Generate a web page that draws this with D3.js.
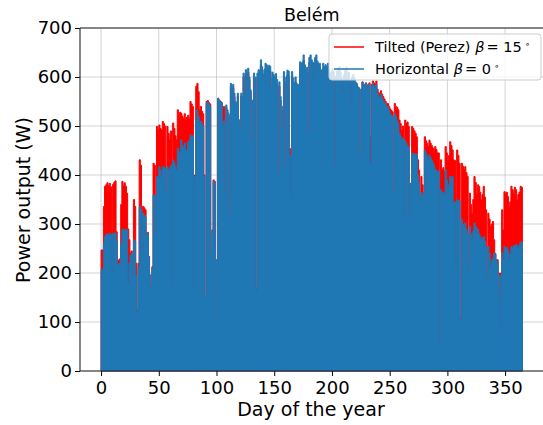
<!DOCTYPE html>
<html>
<head>
<meta charset="utf-8">
<script src="https://cdn.jsdelivr.net/npm/d3@7"></script>
<style>
  body { margin: 0; background: #fff; }
  text { font-family: "DejaVu Sans", sans-serif; fill: #000; }
</style>
</head>
<body>
<svg id="chart"></svg>
<script>
// daily peak power output (W), day 0..364
const tilted = [
  247,247,336,377,380,384,378,383,376,210,
  381,385,388,284,227,225,229,340,387,378,
  384,377,363,290,268,241,245,200,350,336,
  220,125,220,431,420,250,336,333,329,281,
  283,234,196,173,213,424,420,281,499,492,
  502,495,492,509,505,500,363,499,485,472,
  490,176,506,495,480,472,533,519,528,526,
  520,515,525,513,518,522,516,550,545,540,
  176,400,581,587,570,533,540,530,525,400,
  152,550,552,548,545,241,288,390,387,227,
  111,555,553,550,548,536,540,363,538,528,
  520,312,580,575,578,560,545,543,560,510,
  490,560,555,600,560,605,590,610,595,570,
  475,550,600,595,170,600,605,603,625,612,
  596,606,618,615,612,614,612,572,600,596,
  592,598,586,398,581,552,492,532,601,411,
  591,604,602,454,360,601,589,578,590,578,
  575,576,620,618,620,634,615,601,610,481,
  630,634,625,620,585,630,634,622,618,618,
  592,605,618,611,615,612,618,604,598,601,
  607,601,414,592,603,609,612,601,592,566,
  597,607,612,591,603,588,541,595,600,594,
  587,585,578,577,440,575,590,585,580,588,
  578,585,588,478,585,592,588,586,592,575,
  568,565,572,565,560,555,550,545,546,540,
  535,532,529,365,546,540,538,533,512,505,
  492,500,320,512,505,508,499,325,383,499,
  495,490,485,478,431,410,349,397,380,363,
  478,470,465,458,471,465,460,455,450,458,
  452,445,445,60,431,411,415,408,458,445,
  431,440,468,460,451,431,430,225,451,440,
  424,108,424,418,411,417,405,397,212,363,
  340,322,350,397,385,363,380,377,365,349,
  360,377,355,329,188,322,310,295,300,305,
  268,240,227,227,160,200,95,329,288,366,
  363,365,356,336,345,377,370,363,375,370,
  349,360,365,377,375
];
const horizontal = [
  207,207,261,275,278,280,277,281,279,203,
  280,281,282,268,219,217,221,260,288,290,
  286,289,288,180,220,236,240,198,268,265,
  195,122,213,336,330,242,322,318,315,278,
  280,232,196,173,210,360,358,281,397,395,
  417,410,397,417,415,414,363,417,413,410,
  420,176,431,425,418,410,455,440,448,472,
  460,455,465,448,452,468,470,482,478,480,
  176,397,513,533,520,506,510,505,500,397,
  152,547,549,545,540,241,285,387,385,227,
  111,557,552,550,547,499,510,363,543,533,
  525,315,587,581,585,567,550,547,567,513,
  492,567,560,608,565,615,594,618,600,574,
  475,553,608,600,166,608,615,612,635,621,
  604,615,628,625,621,624,622,580,610,605,
  601,607,595,403,590,560,499,540,611,417,
  600,614,612,441,356,611,598,587,600,587,
  584,585,631,628,630,645,625,611,620,488,
  640,645,635,630,594,640,645,632,628,628,
  601,615,628,621,625,622,628,614,607,610,
  617,610,420,601,612,618,621,610,600,573,
  605,615,620,598,610,594,546,600,605,598,
  590,587,580,578,441,575,590,585,580,588,
  577,583,585,424,580,587,582,580,585,567,
  560,556,565,558,552,548,545,540,539,532,
  525,522,519,363,526,520,512,505,485,480,
  471,475,315,471,465,458,458,322,383,444,
  444,440,444,440,400,385,349,363,363,360,
  451,445,440,431,441,435,430,425,420,411,
  410,405,408,57,370,363,365,360,411,390,
  363,380,397,395,397,343,345,220,349,345,
  349,105,309,300,295,302,290,281,210,295,
  280,268,285,302,295,281,290,281,275,268,
  272,274,265,254,186,254,240,213,225,230,
  241,238,227,220,159,195,91,241,227,254,
  250,252,247,227,240,254,250,256,254,258,
  255,250,258,264,262
];
const xTicks = [0, 50, 100, 150, 200, 250, 300, 350];
const yTicks = [0, 100, 200, 300, 400, 500, 600, 700];
const seriesNames = ["Tilted (Perez)", "Horizontal"];
const seriesAngles = ["15", "0"];
const seriesColors = ["#ff0000", "#1f77b4"];

const W = 543, H = 425;
const axL = 80, axR = 543.5, axT = 28, axB = 371;

const svg = d3.select("#chart").attr("width", W).attr("height", H);

const x = d3.scaleLinear().domain([-18.25, 383.25]).range([axL, axR]);
const y = d3.scaleLinear().domain([0, 700]).range([axB, axT]);

// grid
svg.append("g").selectAll("line").data(xTicks).enter().append("line")
  .attr("x1", d => x(d)).attr("x2", d => x(d))
  .attr("y1", axT).attr("y2", axB)
  .attr("stroke", "#b0b0b0").attr("stroke-opacity", 0.55).attr("stroke-width", 1);
svg.append("g").selectAll("line").data(yTicks).enter().append("line")
  .attr("x1", axL).attr("x2", axR)
  .attr("y1", d => y(d)).attr("y2", d => y(d))
  .attr("stroke", "#b0b0b0").attr("stroke-opacity", 0.55).attr("stroke-width", 1);

// each day drawn as a step from 0 up to its peak
const area = d3.area()
  .x(d => x(d.day))
  .y0(y(0))
  .y1(d => y(d.v))
  .curve(d3.curveStepAfter);

function toPts(arr) {
  const pts = arr.map((v, i) => ({ day: i, v: v }));
  pts.push({ day: arr.length, v: arr[arr.length - 1] });
  return pts;
}

svg.append("path").datum(toPts(tilted))
  .attr("d", area).attr("fill", seriesColors[0])
  .attr("stroke", seriesColors[0]).attr("stroke-width", 1);
svg.append("path").datum(toPts(horizontal))
  .attr("d", area).attr("fill", seriesColors[1])
  .attr("stroke", seriesColors[1]).attr("stroke-width", 1);

// axes
const xAxis = svg.append("g").attr("transform", `translate(0,${axB})`)
  .call(d3.axisBottom(x).tickValues(xTicks).tickSize(5).tickPadding(5));
const yAxis = svg.append("g").attr("transform", `translate(${axL},0)`)
  .call(d3.axisLeft(y).tickValues(yTicks).tickSize(5).tickPadding(3));
[xAxis, yAxis].forEach(g => {
  g.select(".domain").remove();
  g.selectAll("line").attr("stroke", "#000").attr("stroke-width", 1);
  g.selectAll("text").style("font-size", "18px").style("font-family", "DejaVu Sans");
});

// spines
svg.append("line").attr("x1", axL).attr("x2", axL).attr("y1", axT).attr("y2", axB)
  .attr("stroke", "#222").attr("stroke-width", 1.1);
svg.append("line").attr("x1", axL).attr("x2", axR).attr("y1", axB).attr("y2", axB)
  .attr("stroke", "#222").attr("stroke-width", 1.1);
svg.append("line").attr("x1", axL).attr("x2", axR).attr("y1", axT).attr("y2", axT)
  .attr("stroke", "#222").attr("stroke-width", 1.1);

// labels
svg.append("text").attr("x", (axL + axR) / 2).attr("y", 21)
  .attr("text-anchor", "middle").style("font-size", "17.5px").text("Belém");
svg.append("text").attr("x", 311).attr("y", 416)
  .attr("text-anchor", "middle").style("font-size", "19px").text("Day of the year");
svg.append("text").attr("transform", "translate(30,200) rotate(-90)")
  .attr("text-anchor", "middle").style("font-size", "19px").text("Power output (W)");

// legend
const lg = svg.append("g");
lg.append("rect").attr("x", 329).attr("y", 34).attr("width", 212).attr("height", 46)
  .attr("rx", 3).attr("fill", "#fff").attr("fill-opacity", 0.8)
  .attr("stroke", "#ccc").attr("stroke-width", 1);
seriesNames.forEach((name, i) => {
  const ly = 47 + i * 22;
  lg.append("line").attr("x1", 334).attr("x2", 364).attr("y1", ly).attr("y2", ly)
    .attr("stroke", seriesColors[i]).attr("stroke-width", 1.5);
  const t = lg.append("text").attr("x", 375).attr("y", ly + 5).style("font-size", "14.5px");
  t.append("tspan").text(name + " ");
  t.append("tspan").style("font-style", "italic").text("β");
  t.append("tspan").attr("dx", 2).text("= " + seriesAngles[i]);
  t.append("tspan").attr("dx", 3).attr("dy", -5).style("font-size", "9px").text("∘");
});
</script>
</body>
</html>
